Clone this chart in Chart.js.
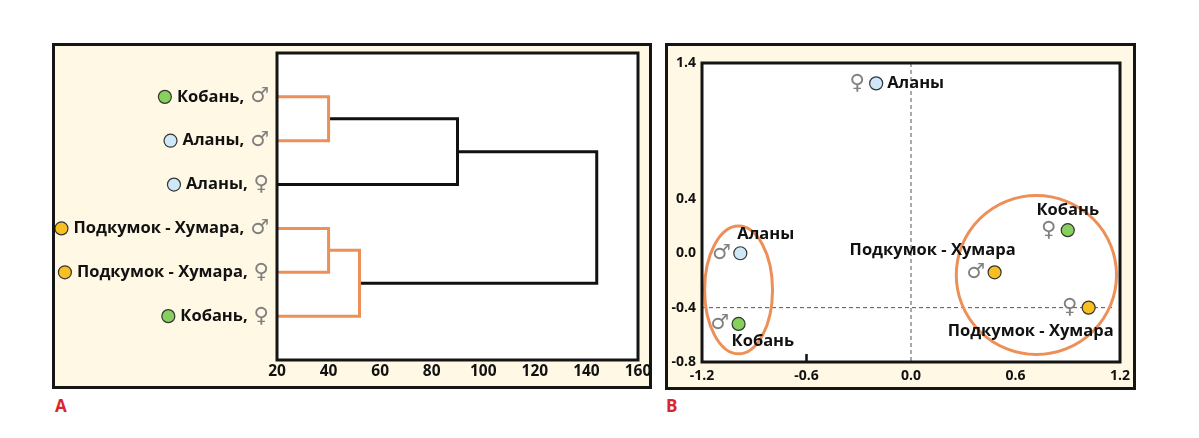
<!DOCTYPE html>
<html>
<head>
<meta charset="utf-8">
<script src="https://cdn.jsdelivr.net/npm/chart.js@4.4.1/dist/chart.umd.min.js"></script>
<style>
  body { margin: 0; background: #fff; width: 1199px; height: 438px; position: relative; overflow: hidden; font-family: "Open Sans", sans-serif; }
  .frame { position: absolute; box-sizing: border-box; border: 3px solid #151515; background: #fff8e4; }
  canvas { position: absolute; }
  .tag { position: absolute; color: #d8262e; font: bold 17px "Open Sans", sans-serif; }
</style>
</head>
<body>
<div class="frame" style="left:52px; top:43px; width:600px; height:346px;"></div>
<div class="frame" style="left:665px; top:43px; width:471px; height:347px;"></div>
<canvas id="dendro" width="605" height="340" style="left:55px; top:46px;"></canvas>
<canvas id="pca" width="480" height="341" style="left:668px; top:46px;"></canvas>
<div class="tag" style="left:55px; top:394px;">A</div>
<div class="tag" style="left:666px; top:394px;">B</div>
<script>
// ---- A: dendrogram data ----
const leafNames = ['Кобань', 'Аланы', 'Аланы', 'Подкумок - Хумара', 'Подкумок - Хумара', 'Кобань'];
const leafSex = ['♂', '♂', '♀', '♂', '♀', '♀'];
const leafGroup = ['kob', 'ala', 'ala', 'pod', 'pod', 'kob'];
// merges: node ids 0-5 are leaves, 6.. are merges in this order
const mergeA = [0, 3, 7, 6, 9];
const mergeB = [1, 4, 5, 2, 8];
const mergeHeight = [40, 40, 52, 90, 144];
const distTicks = [20, 40, 60, 80, 100, 120, 140, 160];

// ---- B: ordination data ----
const pcaNames = ['Аланы', 'Аланы', 'Кобань', 'Подкумок - Хумара', 'Кобань', 'Подкумок - Хумара'];
const pcaSex = ['♀', '♂', '♂', '♂', '♀', '♀'];
const pcaGroup = ['ala', 'ala', 'kob', 'pod', 'kob', 'pod'];
const pcaX = [-0.2, -0.98, -0.99, 0.48, 0.90, 1.02];
const pcaY = [1.25, 0.0, -0.52, -0.14, 0.17, -0.4];
const pcaXTicks = [-1.2, -0.6, 0.0, 0.6, 1.2];
const pcaYTicks = [1.4, 0.4, 0.0, -0.4, -0.8];
// cluster ellipses in data units
const ellCx = [-0.99, 0.72];
const ellCy = [-0.27, -0.16];
const ellRx = [0.195, 0.46];
const ellRy = [0.47, 0.585];

// ---- styles ----
const ORANGE = '#ec9058';
const groupColor = { kob: '#86d05c', ala: '#cfe8f8', pod: '#f8bf22' };
const mergeColor = [ORANGE, ORANGE, ORANGE, '#111', '#111'];
const labelDx = [11, -3, -7, 21, 0, 25];
const labelDy = [0, -19, 17, -22, -20, 24];
const labelAlign = ['left', 'left', 'left', 'right', 'center', 'right'];
const BOLD = 'bold 16.5px "Open Sans", sans-serif';
const SYM = '21px "DejaVu Sans", sans-serif';

// build dendrogram node coordinates
const nodeX = leafNames.map(() => 20);
const nodeY = leafNames.map((n, i) => i + 1);
const dendroSets = [];
mergeA.forEach((a, k) => {
  const b = mergeB[k], h = mergeHeight[k];
  dendroSets.push({
    data: [{x: nodeX[a], y: nodeY[a]}, {x: h, y: nodeY[a]}, {x: h, y: nodeY[b]}, {x: nodeX[b], y: nodeY[b]}],
    showLine: true, borderColor: mergeColor[k], borderWidth: 3, pointRadius: 0, fill: false
  });
  nodeX.push(h);
  nodeY.push((nodeY[a] + nodeY[b]) / 2);
});

function drawDot(ctx, x, y, color) {
  ctx.beginPath();
  ctx.arc(x, y, 6.5, 0, Math.PI * 2);
  ctx.fillStyle = color;
  ctx.fill();
  ctx.lineWidth = 1.2;
  ctx.strokeStyle = '#333';
  ctx.stroke();
}

const areaPlugin = {
  id: 'area',
  beforeDraw(chart) {
    const a = chart.chartArea, ctx = chart.ctx;
    ctx.save();
    ctx.fillStyle = '#fff';
    ctx.fillRect(a.left, a.top, a.right - a.left, a.bottom - a.top);
    ctx.restore();
  },
  afterDraw(chart) {
    const a = chart.chartArea, ctx = chart.ctx;
    ctx.save();
    ctx.strokeStyle = '#151515';
    ctx.lineWidth = 3;
    ctx.strokeRect(a.left, a.top, a.right - a.left, a.bottom - a.top);
    ctx.restore();
  }
};

const leafPlugin = {
  id: 'leaves',
  afterDraw(chart) {
    const ctx = chart.ctx, y = chart.scales.y, left = chart.chartArea.left;
    ctx.save();
    ctx.textBaseline = 'middle';
    leafNames.forEach((name, i) => {
      const py = y.getPixelForValue(i + 1);
      ctx.font = SYM;
      ctx.fillStyle = '#808080';
      ctx.textAlign = 'right';
      const symRight = left - 8;
      ctx.fillText(leafSex[i], symRight, py);
      const symW = ctx.measureText(leafSex[i]).width;
      ctx.font = BOLD;
      ctx.fillStyle = '#111';
      const txt = name + ',';
      const txtRight = symRight - symW - 6;
      ctx.fillText(txt, txtRight, py);
      const w = ctx.measureText(txt).width;
      drawDot(ctx, txtRight - w - 12, py, groupColor[leafGroup[i]]);
    });
    ctx.restore();
  }
};

new Chart(document.getElementById('dendro'), {
  type: 'scatter',
  data: { datasets: dendroSets },
  options: {
    responsive: false,
    animation: false,
    layout: { padding: { left: 222, top: 7, right: 22, bottom: 0 } },
    plugins: { legend: { display: false }, tooltip: { enabled: false } },
    scales: {
      x: {
        type: 'linear', min: 20, max: 160,
        afterBuildTicks: (s) => { s.ticks = distTicks.map(v => ({value: v})); },
        afterFit: (s) => { s.height = 26; },
        grid: { display: false, drawTicks: false },
        border: { display: false },
        ticks: { autoSkip: false, maxRotation: 0, padding: 2, color: '#111', font: { family: '"Open Sans", sans-serif', size: 15.5, weight: 'bold' } }
      },
      y: { type: 'linear', min: 0, max: 7, reverse: true, display: false }
    }
  },
  plugins: [areaPlugin, leafPlugin]
});

const pcaPlugin = {
  id: 'pcaDecor',
  beforeDatasetsDraw(chart) {
    const ctx = chart.ctx, a = chart.chartArea, xs = chart.scales.x, ys = chart.scales.y;
    ctx.save();
    ctx.strokeStyle = '#555';
    ctx.lineWidth = 1;
    ctx.setLineDash([4, 3]);
    const x0 = xs.getPixelForValue(0);
    ctx.beginPath(); ctx.moveTo(x0, a.top); ctx.lineTo(x0, a.bottom); ctx.stroke();
    const yh = ys.getPixelForValue(-0.4);
    ctx.beginPath(); ctx.moveTo(a.left, yh); ctx.lineTo(a.right - 8, yh); ctx.stroke();
    ctx.setLineDash([]);
    // tick mark at -0.6
    const xt = xs.getPixelForValue(-0.6);
    ctx.strokeStyle = '#111'; ctx.lineWidth = 2.5;
    ctx.beginPath(); ctx.moveTo(xt, a.bottom); ctx.lineTo(xt, a.bottom - 8); ctx.stroke();
    // cluster ellipses
    ctx.strokeStyle = ORANGE; ctx.lineWidth = 3;
    ellCx.forEach((cx, i) => {
      const px = xs.getPixelForValue(cx), py = ys.getPixelForValue(ellCy[i]);
      const rx = Math.abs(xs.getPixelForValue(cx + ellRx[i]) - px);
      const ry = Math.abs(ys.getPixelForValue(ellCy[i] + ellRy[i]) - py);
      ctx.beginPath(); ctx.ellipse(px, py, rx, ry, 0, 0, Math.PI * 2); ctx.stroke();
    });
    ctx.restore();
  },
  afterDatasetsDraw(chart) {
    const ctx = chart.ctx, xs = chart.scales.x, ys = chart.scales.y;
    ctx.save();
    ctx.textBaseline = 'middle';
    pcaNames.forEach((name, i) => {
      const px = xs.getPixelForValue(pcaX[i]), py = ys.getPixelForValue(pcaY[i]);
      ctx.font = SYM; ctx.fillStyle = '#808080'; ctx.textAlign = 'center';
      ctx.fillText(pcaSex[i], px - 19, py);
      ctx.font = BOLD; ctx.fillStyle = '#111'; ctx.textAlign = labelAlign[i];
      ctx.fillText(name, px + labelDx[i], py + labelDy[i]);
    });
    ctx.restore();
  }
};

new Chart(document.getElementById('pca'), {
  type: 'scatter',
  data: {
    datasets: [{
      data: pcaX.map((x, i) => ({x: x, y: pcaY[i]})),
      backgroundColor: pcaGroup.map(g => groupColor[g]),
      borderColor: '#333', borderWidth: 1.2, pointRadius: 6.5
    }]
  },
  options: {
    responsive: false,
    animation: false,
    layout: { padding: { left: 0, top: 17, right: 28, bottom: 0 } },
    plugins: { legend: { display: false }, tooltip: { enabled: false } },
    scales: {
      x: {
        type: 'linear', min: -1.2, max: 1.2,
        afterBuildTicks: (s) => { s.ticks = pcaXTicks.map(v => ({value: v})); },
        afterFit: (s) => { s.height = 25; },
        grid: { display: false, drawTicks: false },
        border: { display: false },
        ticks: { autoSkip: false, maxRotation: 0, padding: 6, color: '#111',
          callback: (v) => v.toFixed(1),
          font: { family: '"Open Sans", sans-serif', size: 14, weight: 'bold' } }
      },
      y: {
        type: 'linear', min: -0.8, max: 1.4,
        afterBuildTicks: (s) => { s.ticks = pcaYTicks.map(v => ({value: v})); },
        afterFit: (s) => { s.width = 34; },
        grid: { display: false, drawTicks: false },
        border: { display: false },
        ticks: { autoSkip: false, padding: 6, color: '#111',
          callback: (v) => v.toFixed(1),
          font: { family: '"Open Sans", sans-serif', size: 14, weight: 'bold' } }
      }
    }
  },
  plugins: [areaPlugin, pcaPlugin]
});
</script>
</body>
</html>
